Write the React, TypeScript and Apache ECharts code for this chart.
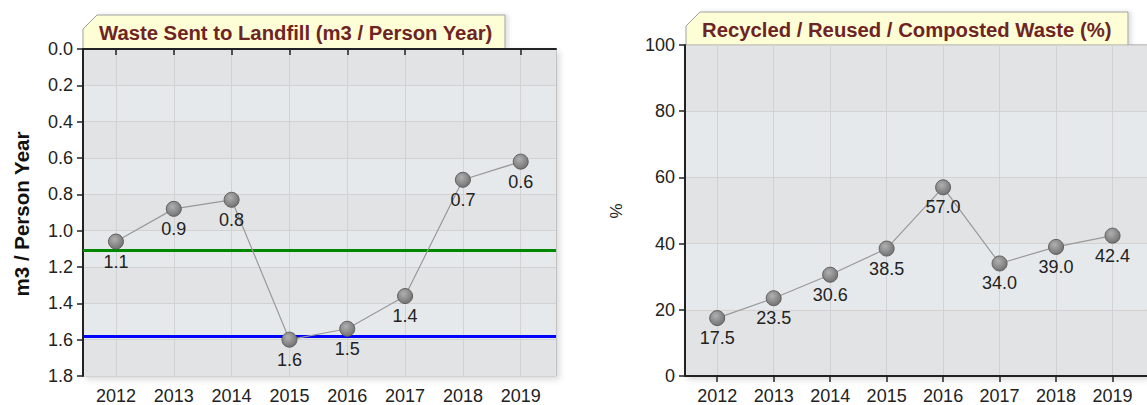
import React, { useEffect, useRef } from "react";
import * as echarts from "echarts";

const years = [2012, 2013, 2014, 2015, 2016, 2017, 2018, 2019];
const landfill = [1.06, 0.88, 0.83, 1.6, 1.54, 1.36, 0.72, 0.62];
const recycled = [17.5, 23.5, 30.6, 38.5, 57.0, 34.0, 39.0, 42.4];
const landfillTargets = [1.11, 1.58];
const leftTitle = "Waste Sent to Landfill (m3 / Person Year)";
const rightTitle = "Recycled / Reused / Composted Waste (%)";
const leftYName = "m3 / Person Year";
const rightYName = "%";

const FONT = "'Liberation Sans', Arial, sans-serif";
const TITLE_FONT = "'Liberation Sans', Arial, sans-serif";
const FS = 18;

export default function App() {
  const ref = useRef<HTMLDivElement>(null);
  useEffect(() => {
    if (!ref.current) return;
    const chart = echarts.init(ref.current, null, { renderer: "svg" });
    const markerColor = new echarts.graphic.RadialGradient(0.4, 0.35, 0.7, [
      { offset: 0, color: "#b0b0b0" },
      { offset: 1, color: "#6f6f6f" },
    ]);
    const xAxisBase = (gridIndex: number) => ({
      type: "value",
      gridIndex,
      min: 2011.43,
      max: 2019.61,
      axisLine: { show: true, lineStyle: { color: "#222", width: 2 } },
      axisTick: { show: true, customValues: years, length: 6, lineStyle: { color: "#222", width: 1.5 } },
      axisLabel: {
        customValues: years,
        formatter: (v: number) => String(Math.round(v)),
        color: "#222",
        fontSize: FS,
        fontFamily: FONT,
        margin: 11,
      },
      splitLine: { show: true, lineStyle: { color: "#d2d2d2", width: 1 } },
    });
    const gridBase = {
      show: true,
      borderColor: "#9a9a9a",
      borderWidth: 1,
      backgroundColor: "#e3e4e6",
      shadowColor: "rgba(0,0,0,0.15)",
      shadowBlur: 6,
      shadowOffsetX: 3,
      shadowOffsetY: 3,
    };
    const tab = (x0: number, x1: number, y0: number, y1: number, text: string) => [
      {
        type: "polygon",
        shape: {
          points: [
            [x0, y1],
            [x0, y0 + 14],
            [x0 + 14, y0],
            [x1, y0],
            [x1, y1],
          ],
        },
        style: { fill: "#fefed6", stroke: "#a0a0a0", lineWidth: 1, shadowColor: "rgba(0,0,0,0.12)", shadowBlur: 4, shadowOffsetX: 3 },
      },
      {
        type: "text",
        x: x0 + 16,
        y: (y0 + y1) / 2 + 1,
        style: {
          text,
          fill: "#6e2424",
          font: `bold 20.3px ${TITLE_FONT}`,
          textVerticalAlign: "middle",
          textAlign: "left",
        },
      },
    ];
    const seriesBase = {
      type: "line",
      symbol: "circle",
      symbolSize: 15,
      lineStyle: { color: "#999", width: 1.2 },
      itemStyle: { color: markerColor, borderColor: "#5f5f5f", borderWidth: 1 },
      label: {
        show: true,
        position: "bottom",
        distance: 3,
        color: "#222",
        fontSize: FS,
        fontFamily: FONT,
      },
      z: 5,
    };
    chart.setOption({
      animation: false,
      grid: [
        { ...gridBase, left: 83, top: 49, width: 473, height: 327 },
        { ...gridBase, left: 685, top: 45, width: 472, height: 331 },
      ],
      xAxis: [xAxisBase(0), xAxisBase(1)],
      yAxis: [
        {
          type: "value",
          gridIndex: 0,
          inverse: true,
          min: 0,
          max: 1.8,
          interval: 0.2,
          axisLine: { show: true, lineStyle: { color: "#222", width: 2 } },
          axisTick: { show: true, length: 6, lineStyle: { color: "#222", width: 1.5 } },
          axisLabel: {
            formatter: (v: number) => v.toFixed(1),
            color: "#222",
            fontSize: FS,
            fontFamily: FONT,
            margin: 10,
          },
          splitLine: { show: true, lineStyle: { color: "#d2d2d2", width: 1 } },
          splitArea: { show: true, areaStyle: { color: ["#e2e3e5", "#e6e9ec"] } },
        },
        {
          type: "value",
          gridIndex: 1,
          min: 0,
          max: 100,
          interval: 20,
          axisLine: { show: true, lineStyle: { color: "#222", width: 2 } },
          axisTick: { show: true, length: 6, lineStyle: { color: "#222", width: 1.5 } },
          axisLabel: {
            color: "#222",
            fontSize: FS,
            fontFamily: FONT,
            margin: 10,
          },
          splitLine: { show: true, lineStyle: { color: "#d2d2d2", width: 1 } },
          splitArea: { show: true, areaStyle: { color: ["#e2e3e5", "#e6e9ec"] } },
        },
      ],
      series: [
        {
          ...seriesBase,
          xAxisIndex: 0,
          yAxisIndex: 0,
          data: years.map((y, i) => [y, landfill[i]]),
          label: { ...seriesBase.label, formatter: (p: any) => Number(p.value[1]).toFixed(1) },
          markLine: {
            silent: true,
            symbol: "none",
            label: { show: false },
            z: 3,
            data: [
              { yAxis: landfillTargets[0], lineStyle: { color: "#008800", width: 3, type: "solid" } },
              { yAxis: landfillTargets[1], lineStyle: { color: "#0000ff", width: 3, type: "solid" } },
            ],
          },
        },
        {
          ...seriesBase,
          xAxisIndex: 1,
          yAxisIndex: 1,
          data: years.map((y, i) => [y, recycled[i]]),
          label: { ...seriesBase.label, formatter: (p: any) => Number(p.value[1]).toFixed(1) },
        },
      ],
      graphic: [
        ...tab(83, 505, 15, 49, leftTitle),
        ...tab(686, 1128, 12, 45, rightTitle),
        {
          type: "text",
          x: 21,
          y: 214,
          rotation: Math.PI / 2,
          style: {
            text: leftYName,
            fill: "#111",
            font: `bold 20.5px ${FONT}`,
            textAlign: "center",
            textVerticalAlign: "middle",
          },
        },
        {
          type: "text",
          x: 616,
          y: 211,
          rotation: Math.PI / 2,
          style: {
            text: rightYName,
            fill: "#222",
            font: `17px ${FONT}`,
            textAlign: "center",
            textVerticalAlign: "middle",
          },
        },
      ],
    });
    return () => chart.dispose();
  }, []);
  return (
    <div
      ref={ref}
      style={{ position: "absolute", left: 0, top: 0, width: 1147, height: 405, overflow: "hidden" }}
    />
  );
}
